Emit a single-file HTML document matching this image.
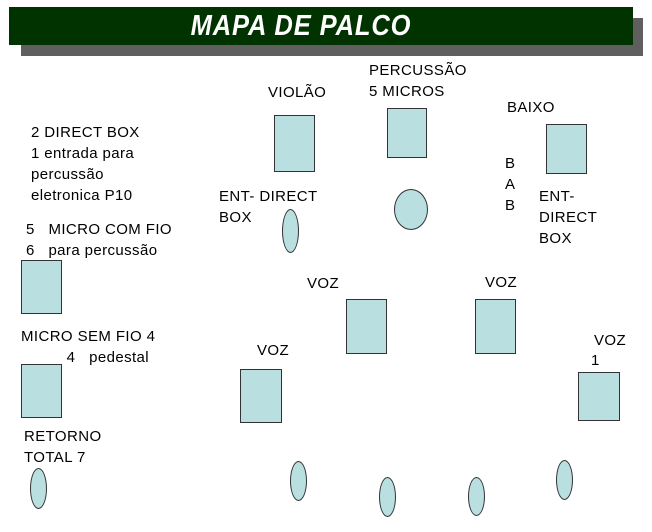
<!DOCTYPE html>
<html><head><meta charset="utf-8"><style>
body{margin:0;width:652px;height:532px;background:#fff;position:relative;overflow:hidden;font-family:"Liberation Sans",sans-serif;}
.t{position:absolute;font-size:15px;line-height:21px;color:#000;letter-spacing:0.4px;white-space:pre;}
.b{position:absolute;background:#b9dfe0;border:1.5px solid #333;box-sizing:border-box;}
.e{position:absolute;background:#b9dfe0;border:1.5px solid #333;box-sizing:border-box;border-radius:50%;}
</style></head><body>
<div style="position:absolute;left:21px;top:18px;width:622px;height:38px;background:#5f5f5f"></div>
<div style="position:absolute;left:9px;top:7px;width:624px;height:38px;background:#003300;"></div>
<div style="position:absolute;left:9px;top:7px;width:584px;height:38px;color:#fff;font-family:'Liberation Sans',sans-serif;font-weight:bold;font-style:italic;font-size:29px;line-height:38px;text-align:center;letter-spacing:1px;transform:scaleX(0.88)">MAPA DE PALCO</div>

<div class="t" style="left:31px;top:122px">2 DIRECT BOX
1 entrada para
percussão
eletronica P10</div>
<div class="t" style="left:26px;top:219px">5   MICRO COM FIO
6   para percussão</div>
<div class="t" style="left:21px;top:326px">MICRO SEM FIO 4
          4   pedestal</div>
<div class="t" style="left:24px;top:426px">RETORNO
TOTAL 7</div>
<div class="t" style="left:268px;top:82px">VIOLÃO</div>
<div class="t" style="left:369px;top:60px">PERCUSSÃO
5 MICROS</div>
<div class="t" style="left:507px;top:97px">BAIXO</div>
<div class="t" style="left:505px;top:153px">B
A
B</div>
<div class="t" style="left:539px;top:186px">ENT-
DIRECT
BOX</div>
<div class="t" style="left:219px;top:186px">ENT- DIRECT
BOX</div>
<div class="t" style="left:307px;top:273px">VOZ</div>
<div class="t" style="left:485px;top:272px">VOZ</div>
<div class="t" style="left:257px;top:340px">VOZ</div>
<div class="t" style="left:594px;top:330px">VOZ</div>
<div class="t" style="left:591px;top:350px">1</div>

<div class="b" style="left:274px;top:115px;width:41px;height:57px"></div>
<div class="b" style="left:387px;top:108px;width:40px;height:50px"></div>
<div class="b" style="left:546px;top:124px;width:41px;height:50px"></div>
<div class="e" style="left:394px;top:189px;width:34px;height:41px"></div>
<div class="e" style="left:282px;top:209px;width:17px;height:44px"></div>
<div class="b" style="left:21px;top:260px;width:41px;height:54px"></div>
<div class="b" style="left:21px;top:364px;width:41px;height:54px"></div>
<div class="b" style="left:346px;top:299px;width:41px;height:55px"></div>
<div class="b" style="left:475px;top:299px;width:41px;height:55px"></div>
<div class="b" style="left:240px;top:369px;width:42px;height:54px"></div>
<div class="b" style="left:578px;top:372px;width:42px;height:49px"></div>
<div class="e" style="left:30px;top:468px;width:17px;height:41px"></div>
<div class="e" style="left:290px;top:461px;width:17px;height:40px"></div>
<div class="e" style="left:379px;top:477px;width:17px;height:40px"></div>
<div class="e" style="left:468px;top:477px;width:17px;height:39px"></div>
<div class="e" style="left:556px;top:460px;width:17px;height:40px"></div>
</body></html>
